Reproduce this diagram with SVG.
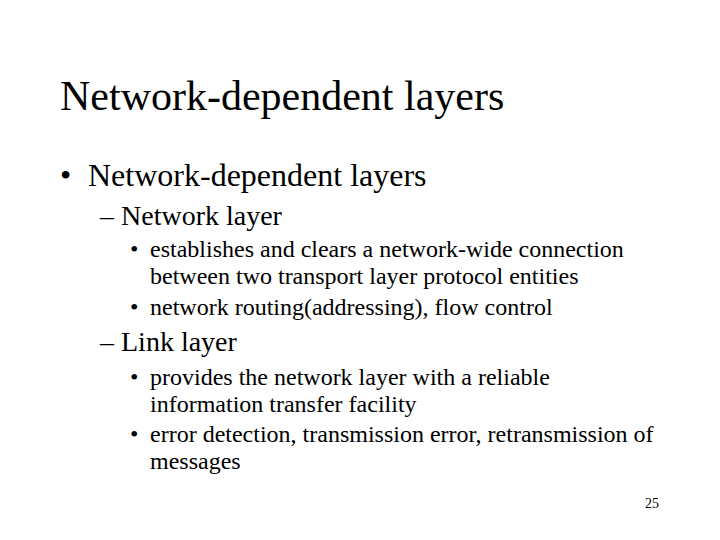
<svg xmlns="http://www.w3.org/2000/svg" width="720" height="540" viewBox="0 0 720 540">
<style>
.t{font-size:42px}.l1{font-size:32px}.l2{font-size:28px}.l3{font-size:24px}
</style>
<rect width="720" height="540" fill="#fff"/>
<g font-family="'Liberation Serif', 'Times New Roman', 'DejaVu Serif', serif" fill="#000">
<text class="t" x="60" y="110">Network-dependent layers</text>
<text class="l1" x="60" y="186">•</text><text class="l1" x="88" y="186">Network-dependent layers</text>
<text class="l2" x="100" y="225">– Network layer</text>
<text class="l3" x="130" y="257">•</text><text class="l3" x="150" y="257">establishes and clears a network-wide connection</text>
<text class="l3" x="150" y="284">between two transport layer protocol entities</text>
<text class="l3" x="130" y="315">•</text><text class="l3" x="150" y="315">network routing(addressing), flow control</text>
<text class="l2" x="100" y="351">– Link layer</text>
<text class="l3" x="130" y="385">•</text><text class="l3" x="150" y="385">provides the network layer with a reliable</text>
<text class="l3" x="150" y="412">information transfer facility</text>
<text class="l3" x="130" y="442">•</text><text class="l3" x="150" y="442">error detection, transmission error, retransmission of</text>
<text class="l3" x="150" y="469">messages</text>
<text x="645" y="508" font-size="14">25</text>
</g>
</svg>
